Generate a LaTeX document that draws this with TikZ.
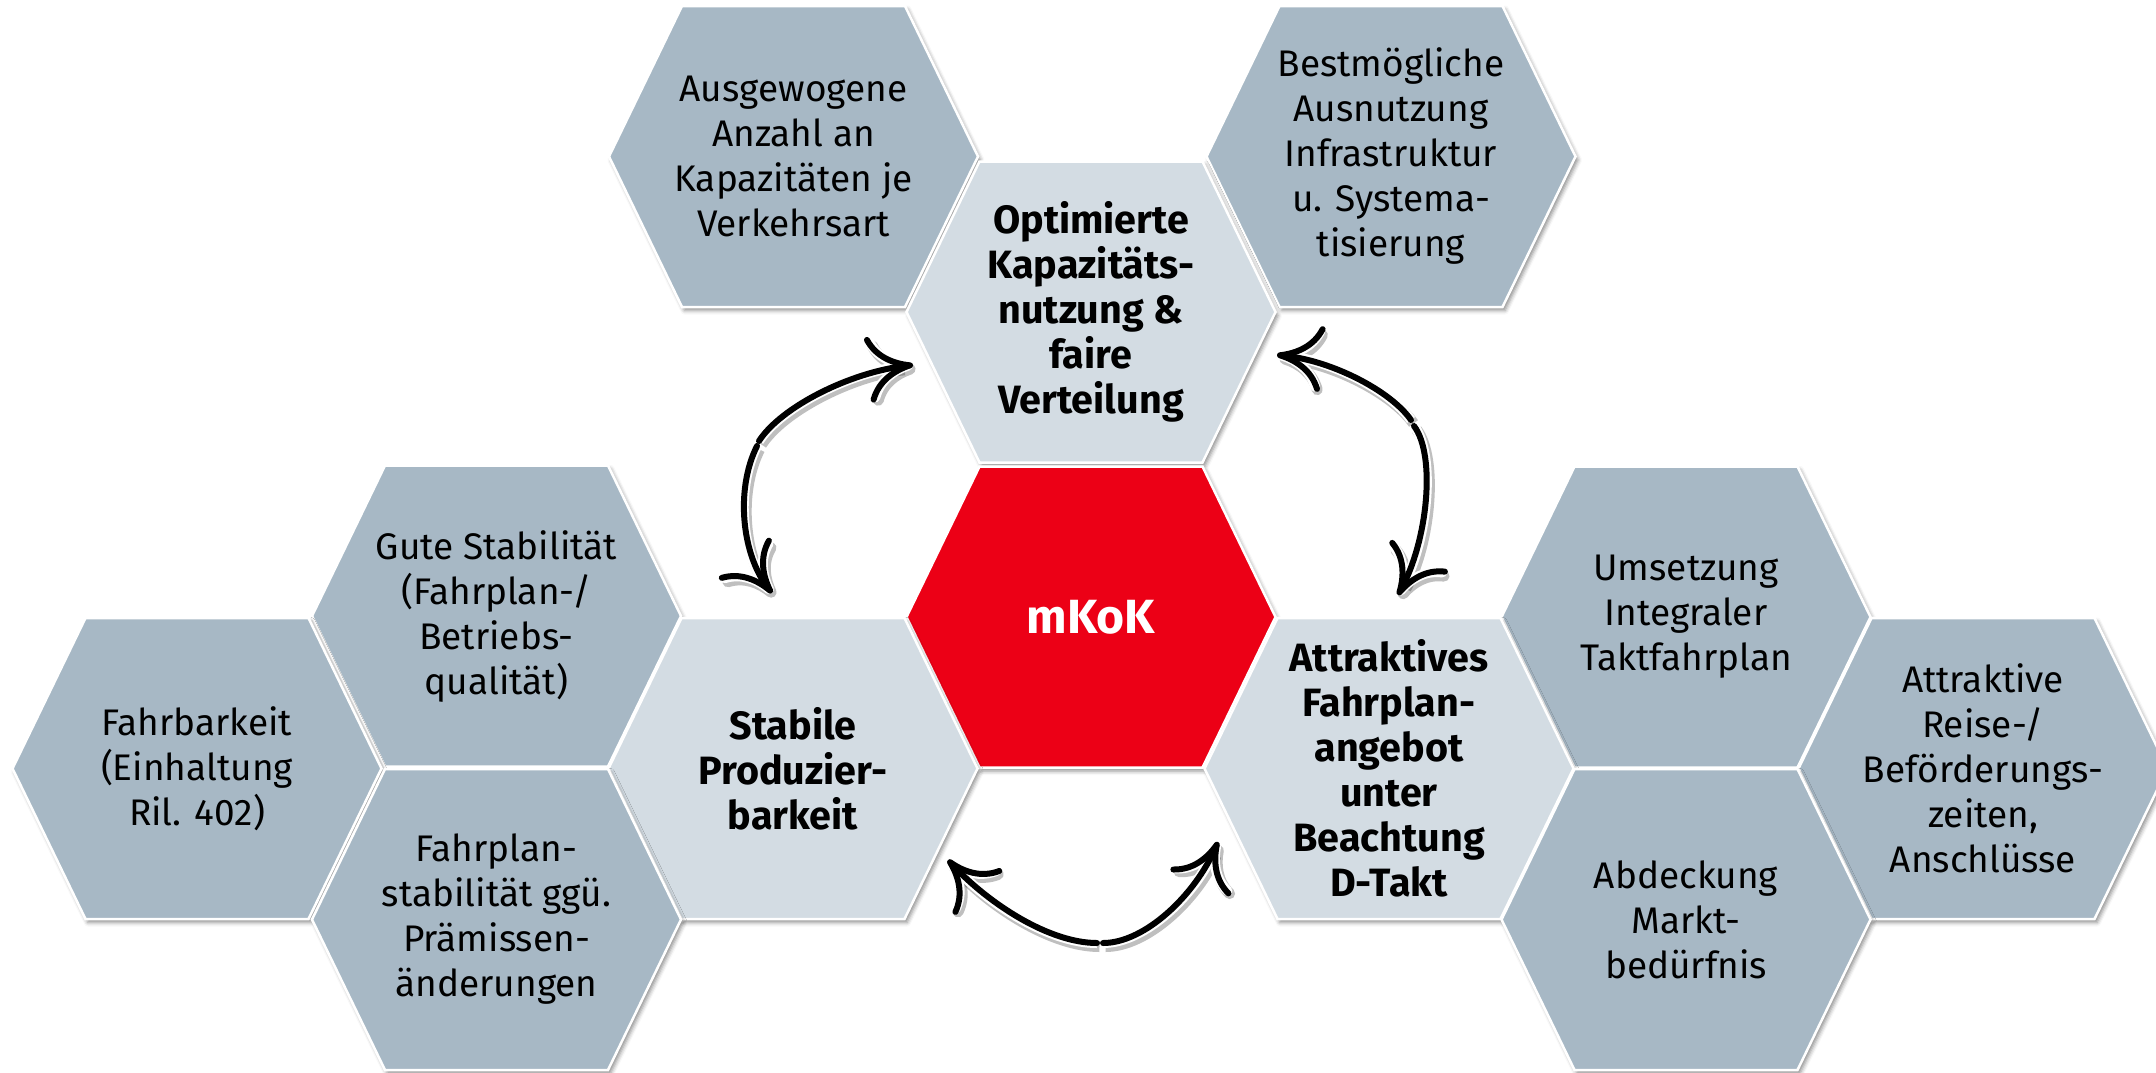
\documentclass[tikz,border=0pt]{standalone}
\usepackage{fontspec}
\setmainfont{Fira Sans}
\usetikzlibrary{arrows.meta,shadows.blur}

\definecolor{hexdark}{HTML}{A7B8C5}
\definecolor{hexlight}{HTML}{D3DCE3}
\definecolor{dbred}{HTML}{EC0016}

\tikzset{
  hexshape/.style={draw=white, line width=2.5pt,
    blur shadow={shadow xshift=2.5pt, shadow yshift=-3.5pt,
                 shadow blur radius=4pt, shadow opacity=45}},
  plaintext/.style={align=center, text=black, inner sep=0pt,
    font=\fontsize{37}{45}\selectfont},
  boldtext/.style={align=center, text=black, inner sep=0pt,
    font=\bfseries\fontsize{39.5}{45}\selectfont},
  coretext/.style={align=center, text=white, inner sep=0pt,
    font=\bfseries\fontsize{48}{52}\selectfont},
  twoway/.style={line width=6pt, black, line cap=round,
    -{Computer Modern Rightarrow[length=46pt,width=66pt]},
    preaction={draw=black, opacity=.25, line width=11pt,
      transform canvas={shift={(2.5pt,-3.5pt)}}},
    preaction={draw=white, line width=10pt}},
}

% one hexagonal cell: name, centre, fill, text style, text
\newcommand\hexcell[5]{%
  \path[hexshape, fill=#3] (#2) ++(-184.5,0) -- ++(73,-150.5) -- ++(223,0)
    -- ++(73,150.5) -- ++(-73,150.5) -- ++(-223,0) -- cycle;
  \node[#4] (#1) at (#2) {#5};}

\begin{document}
\begin{tikzpicture}[x=1pt,y=-1pt]
\useasboundingbox (0,0) rectangle (2156,1072);

% top row
\hexcell{ausg}{793.5,156.5}{hexdark}{plaintext}{Ausgewogene\\Anzahl an\\Kapazitäten je\\Verkehrsart}
\hexcell{best}{1391,156.5}{hexdark}{plaintext}{Bestmögliche\\Ausnutzung\\Infrastruktur\\u. Systema-\\tisierung}
\hexcell{opt}{1091,312}{hexlight}{boldtext}{Optimierte\\Kapazitäts-\\nutzung \&\\faire\\Verteilung}

% middle
\hexcell{gute}{496.5,616}{hexdark}{plaintext}{Gute Stabilität\\(Fahrplan-/\\Betriebs-\\qualität)}
\hexcell{core}{1091,617}{dbred}{coretext}{mKoK}
\hexcell{ums}{1686,617}{hexdark}{plaintext}{Umsetzung\\Integraler\\Taktfahrplan}

\hexcell{fahrb}{197,768.5}{hexdark}{plaintext}{Fahrbarkeit\\(Einhaltung\\Ril. 402)}
\hexcell{stab}{793,768.5}{hexlight}{boldtext}{Stabile\\Produzier-\\barkeit}
\hexcell{attr}{1389,768.5}{hexlight}{boldtext}{Attraktives\\Fahrplan-\\angebot\\unter\\Beachtung\\D-Takt}
\hexcell{reise}{1983,768.5}{hexdark}{plaintext}{Attraktive\\Reise-/\\Beförderungs-\\zeiten,\\Anschlüsse}

% bottom row
\hexcell{fstab}{496.5,919.5}{hexdark}{plaintext}{Fahrplan-\\stabilität ggü.\\Prämissen-\\änderungen}
\hexcell{abd}{1686,919.5}{hexdark}{plaintext}{Abdeckung\\Markt-\\bedürfnis}

% arrow end points
\coordinate (lmida) at (759,441);
\coordinate (lmidb) at (757,446);
\coordinate (ltop) at (913,365);
\coordinate (lbot) at (772,593);
\coordinate (rmida) at (1411,420);
\coordinate (rmidb) at (1414,426);
\coordinate (rtop) at (1277,355);
\coordinate (rbot) at (1398,595);
\coordinate (bmida) at (1097,943);
\coordinate (bmidb) at (1103,943);
\coordinate (bleft) at (948,860);
\coordinate (bright) at (1218,842);

% optimised capacity <-> stable production
\draw[twoway] (lmida) .. controls (781,407) and (850,372) .. (ltop);
\draw[twoway] (lmidb) .. controls (735,490) and (742,555) .. (lbot);
% optimised capacity <-> attractive timetable
\draw[twoway] (rmida) .. controls (1390,390) and (1330,360) .. (rtop);
\draw[twoway] (rmidb) .. controls (1436,455) and (1428,540) .. (rbot);
% stable production <-> attractive timetable
\draw[twoway] (bmida) .. controls (1050,943) and (990,905) .. (bleft);
\draw[twoway] (bmidb) .. controls (1145,943) and (1195,895) .. (bright);
\end{tikzpicture}
\end{document}
